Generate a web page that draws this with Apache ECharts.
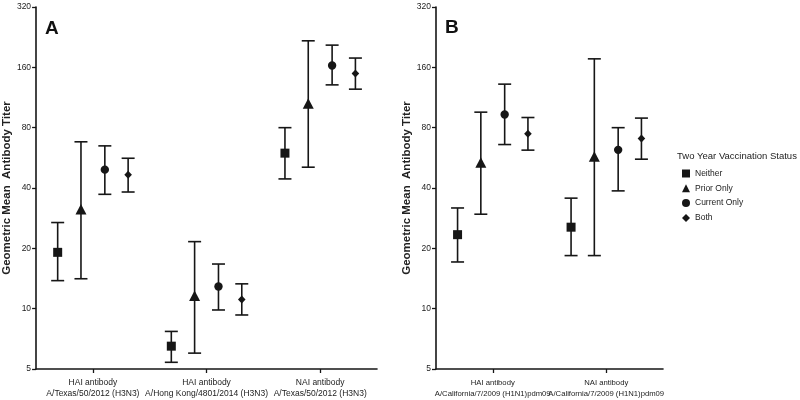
<!DOCTYPE html>
<html>
<head>
<meta charset="utf-8">
<script src="https://cdn.jsdelivr.net/npm/echarts@6/dist/echarts.min.js"></script>
<style>html,body{margin:0;padding:0;background:#fff;}#c{width:800px;height:400px;}</style>
</head>
<body>
<div id="c"></div>
<script>
// ---- Data ----
const seriesNames = ['Neither', 'Prior Only', 'Current Only', 'Both'];
const yTicks = [5, 10, 20, 40, 80, 160, 320];

const catsA = ['HAI antibody\nA/Texas/50/2012 (H3N3)', 'HAI antibody\nA/Hong Kong/4801/2014 (H3N3)', 'NAI antibody\nA/Texas/50/2012 (H3N3)'];
// [mean, lower, upper] per category
const neitherA = [[19.1, 13.8, 26.9], [6.5, 5.4, 7.7], [59.7, 44.4, 80]];
const priorA   = [[31.1, 14.1, 68], [11.5, 6.0, 21.6], [104.8, 50.8, 217]];
const currentA = [[49.4, 37.2, 64.9], [12.9, 9.85, 16.7], [163.4, 130.8, 206.5]];
const bothA    = [[46.6, 38.2, 56.3], [11.1, 9.3, 13.3], [149, 124.5, 178]];

const catsB = ['HAI antibody\nA/California/7/2009 (H1N1)pdm09', 'NAI antibody\nA/California/7/2009 (H1N1)pdm09'];
const neitherB = [[23.4, 17.1, 31.8], [25.5, 18.4, 35.6]];
const priorB   = [[53.2, 29.6, 95.6], [57, 18.4, 176.4]];
const currentB = [[93, 65.9, 131.9], [62, 38.7, 80]];
const bothB    = [[74.5, 61.8, 89.9], [70.6, 55.7, 89.3]];

// ---- Build ----
const t = v => Math.log2(v / 5);
const INK = '#161616';
const offsets = [-0.31, -0.105, 0.105, 0.31];
const shapes = ['square', 'triangle', 'circle', 'diamond'];

function marker(shape, x, y) {
  const st = { fill: INK, stroke: null };
  if (shape === 'square') return { type: 'rect', shape: { x: x - 4.5, y: y - 4.5, width: 9, height: 9 }, style: st };
  if (shape === 'triangle') return { type: 'polygon', shape: { points: [[x, y - 6], [x - 5.5, y + 4.5], [x + 5.5, y + 4.5]] }, style: st };
  if (shape === 'circle') return { type: 'circle', shape: { cx: x, cy: y, r: 4.2 }, style: st };
  return { type: 'polygon', shape: { points: [[x, y - 4], [x + 3.8, y], [x, y + 4], [x - 3.8, y]] }, style: st };
}

function makeSeries(data, idx, grid) {
  const off = offsets[idx];
  const shape = shapes[idx];
  return {
    name: seriesNames[idx],
    type: 'custom',
    xAxisIndex: grid, yAxisIndex: grid,
    itemStyle: { color: INK },
    data: data.map((d, i) => [i, t(d[0]), t(d[1]), t(d[2])]),
    renderItem: function (params, api) {
      const cat = api.value(0);
      const c = api.coord([cat, api.value(1)]);
      const bw = api.size([1, 0])[0];
      const x = c[0] + off * bw;
      const yl = api.coord([cat, api.value(2)])[1];
      const yh = api.coord([cat, api.value(3)])[1];
      const ls = { stroke: INK, lineWidth: 1.6 };
      const cap = 6.5;
      return {
        type: 'group',
        children: [
          { type: 'line', shape: { x1: x, y1: yl, x2: x, y2: yh }, style: ls },
          { type: 'line', shape: { x1: x - cap, y1: yh, x2: x + cap, y2: yh }, style: ls },
          { type: 'line', shape: { x1: x - cap, y1: yl, x2: x + cap, y2: yl }, style: ls },
          marker(shape, x, c[1])
        ]
      };
    }
  };
}

const font = 'Liberation Sans, Arial, sans-serif';
function yAxis(grid) {
  return {
    type: 'value', gridIndex: grid, min: 0, max: 6, interval: 1,
    name: 'Geometric Mean  Antibody Titer', nameLocation: 'middle', nameGap: 22,
    nameTextStyle: { fontFamily: font, fontSize: 11.5, fontWeight: 'bold', color: '#222' },
    axisLine: { show: true, lineStyle: { color: INK, width: 1.6 } },
    axisTick: { show: true, length: 4, lineStyle: { color: INK, width: 1.3 } },
    axisLabel: { fontFamily: font, fontSize: 8.5, color: '#222', margin: 5,
      formatter: v => String(yTicks[Math.round(v)]) },
    splitLine: { show: false }
  };
}
function xAxis(grid, cats, fs) {
  return {
    type: 'category', gridIndex: grid, data: cats,
    axisLine: { show: true, lineStyle: { color: INK, width: 1.6 } },
    axisTick: { show: true, alignWithLabel: true, length: 4, lineStyle: { color: INK, width: 1.3 } },
    axisLabel: { fontFamily: font, fontSize: fs, color: '#222', margin: 8, lineHeight: 11, interval: 0 },
    splitLine: { show: false }
  };
}

const chart = echarts.init(document.getElementById('c'), null, { renderer: 'canvas' });
chart.setOption({
  animation: false,
  backgroundColor: '#fff',
  grid: [
    { left: 36, right: 423, top: 7, bottom: 31 },
    { left: 436, right: 137, top: 7, bottom: 31 }
  ],
  xAxis: [xAxis(0, catsA, 8.5), xAxis(1, catsB, 7.7)],
  yAxis: [yAxis(0), yAxis(1)],
  legend: {
    orient: 'vertical', left: 677, top: 164,
    itemWidth: 8, itemHeight: 8, itemGap: 5.8,
    textStyle: { fontFamily: font, fontSize: 8.5, color: '#222' },
    data: [
      { name: 'Neither', icon: 'rect' },
      { name: 'Prior Only', icon: 'triangle' },
      { name: 'Current Only', icon: 'circle' },
      { name: 'Both', icon: 'diamond' }
    ]
  },
  graphic: [
    { type: 'text', left: 45, top: 19, style: { text: 'A', font: 'bold 19px ' + font, fill: '#111' } },
    { type: 'text', left: 445, top: 18, style: { text: 'B', font: 'bold 19px ' + font, fill: '#111' } },
    { type: 'text', left: 677, top: 151, style: { text: 'Two Year Vaccination Status', font: '9.5px ' + font, fill: '#222' } }
  ],
  series: [
    makeSeries(neitherA, 0, 0), makeSeries(priorA, 1, 0), makeSeries(currentA, 2, 0), makeSeries(bothA, 3, 0),
    makeSeries(neitherB, 0, 1), makeSeries(priorB, 1, 1), makeSeries(currentB, 2, 1), makeSeries(bothB, 3, 1)
  ]
});
</script>
</body>
</html>
